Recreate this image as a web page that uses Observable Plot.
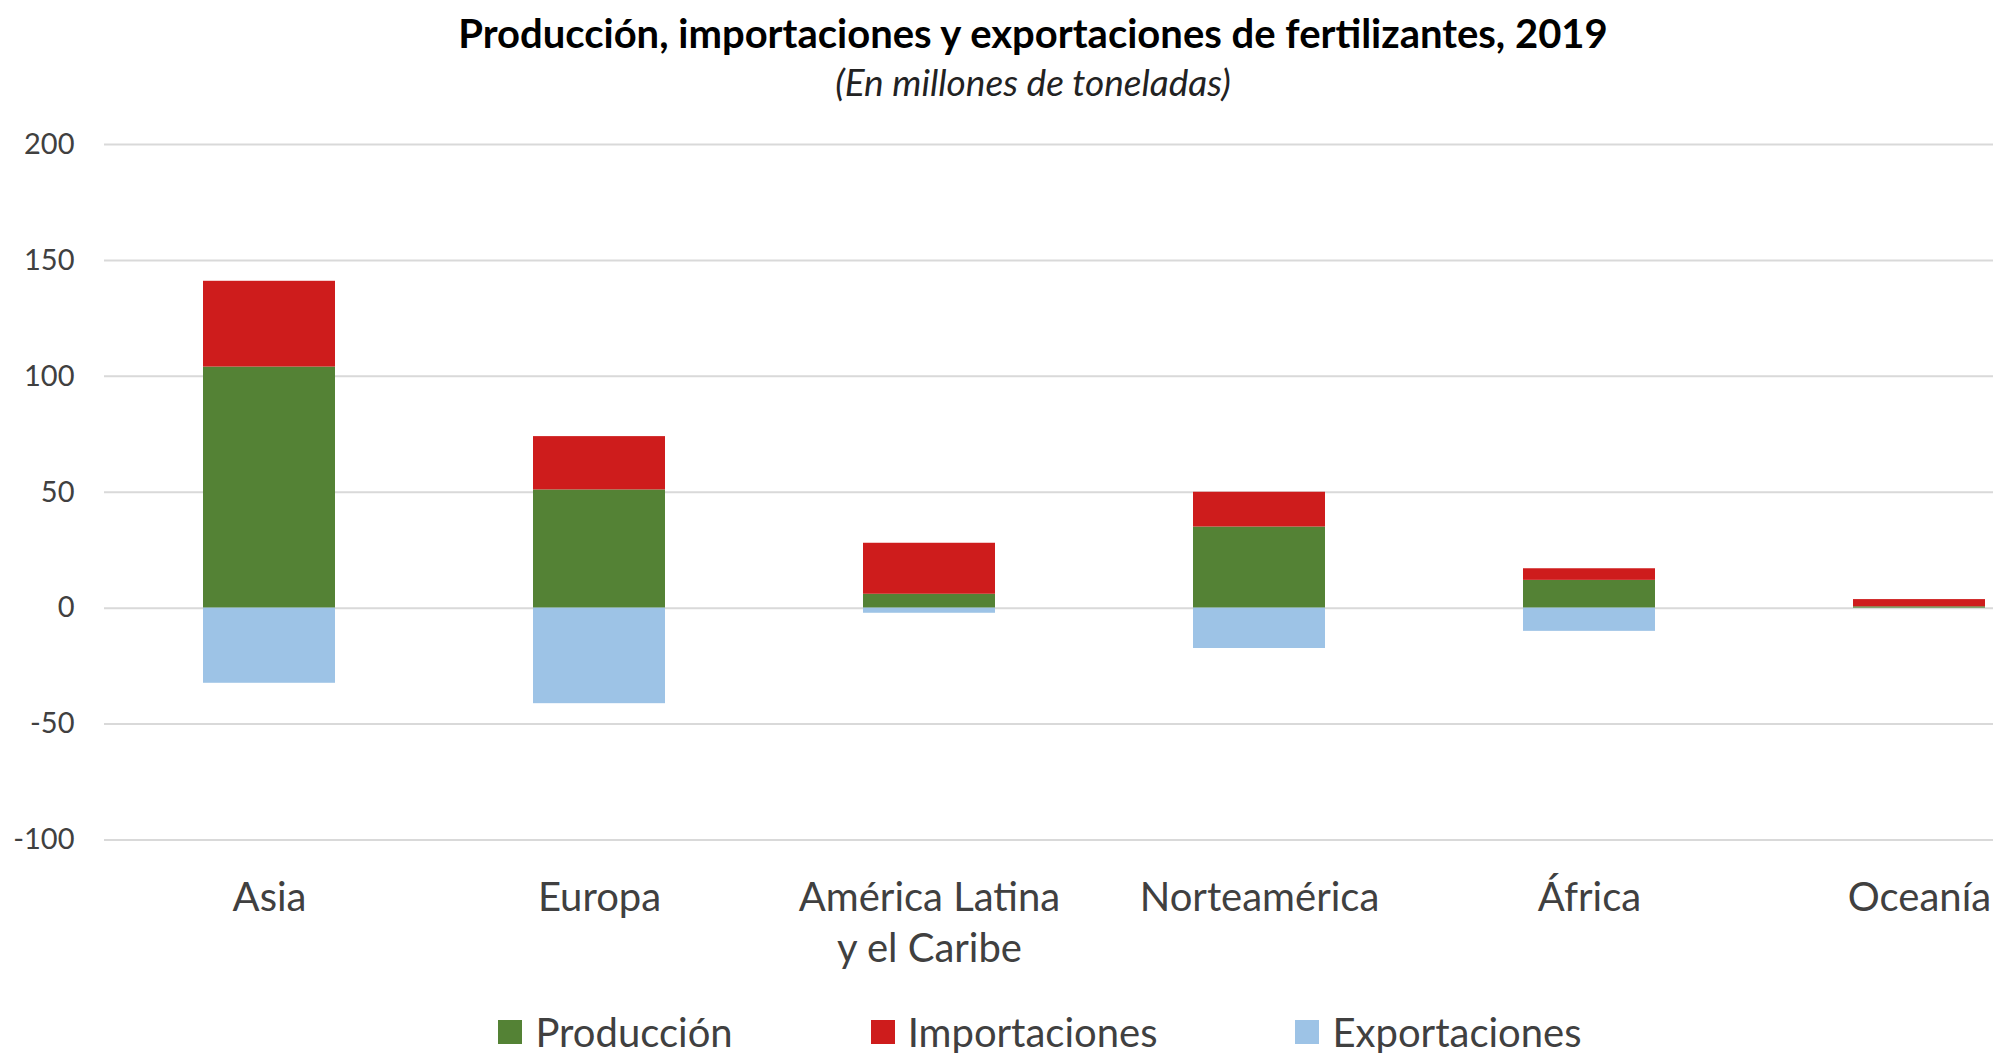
<!DOCTYPE html>
<html>
<head>
<meta charset="utf-8">
<script src="https://cdn.jsdelivr.net/npm/d3@7"></script>
<script src="https://cdn.jsdelivr.net/npm/@observablehq/plot@0.6"></script>
<style>
  html, body { margin: 0; padding: 0; background: #fff; }
  body { width: 1993px; height: 1053px; position: relative; overflow: hidden; font-family: Lato, "Open Sans", sans-serif; }
  #title { position: absolute; top: 13px; left: 1033px; transform: translateX(-50%); white-space: nowrap; font-weight: 700; font-size: 40px; line-height: 1; color: #000; }
  #subtitle { position: absolute; top: 63px; left: 1033px; transform: translateX(-50%); white-space: nowrap; font-style: italic; font-size: 37px; line-height: 1; color: #222; }
  #chart { position: absolute; top: 110px; left: 0; }
  #legend { position: absolute; top: 1010px; left: 0; width: 2080px; display: flex; justify-content: center; gap: 138px; font-size: 40px; line-height: 44px; color: #404040; }
  .item { display: flex; align-items: center; white-space: nowrap; }
  .sw { width: 24px; height: 24px; margin-right: 13px; display: inline-block; }
</style>
</head>
<body>
<div id="title">Producción, importaciones y exportaciones de fertilizantes, 2019</div>
<div id="subtitle">(En millones de toneladas)</div>
<div id="chart"></div>
<div id="legend"></div>
<script>
const regions = ["Asia", "Europa", "América Latina y el Caribe", "Norteamérica", "África", "Oceanía"];
const series = ["Producción", "Importaciones", "Exportaciones"];
const colors = ["#548235", "#ce1c1c", "#9dc3e6"];
const produccion = [104, 51, 6, 35, 12, 0.6];
const importaciones = [37, 23, 22, 15, 5, 3.1];
const exportaciones = [-32.4, -41.2, -2.2, -17.4, -10, 0];
const yTicks = [-100, -50, 0, 50, 100, 150, 200];

const valuesBySeries = [produccion, importaciones, exportaciones];
const rows = [];
series.forEach((s, i) => {
  regions.forEach((r, j) => rows.push({region: r, serie: s, value: valuesBySeries[i][j]}));
});

const chart = Plot.plot({
  width: 1993,
  height: 880,
  marginTop: 34,
  marginBottom: 150.5,
  marginLeft: 104,
  marginRight: 0,
  style: {fontFamily: "Lato, 'Open Sans', sans-serif", background: "#fff"},
  x: {type: "band", domain: regions, range: [104, 2084], paddingInner: 0.6, paddingOuter: 0.3},
  y: {domain: [-100, 200]},
  color: {domain: series, range: colors},
  marks: [
    Plot.ruleY(yTicks, {stroke: "#d9d9d9", strokeWidth: 2}),
    Plot.barY(rows, Plot.stackY({x: "region", y: "value", fill: "serie", order: series})),
    Plot.axisY(yTicks, {
      tickSize: 0, tickPadding: 30, fontSize: 29, fill: "#404040", label: null,
      tickFormat: d => (d < 0 ? "-" + Math.abs(d) : String(d))
    }),
    Plot.axisX({
      tickSize: 0, tickPadding: 35, fontSize: 40, fill: "#404040", label: null, lineHeight: 1.275,
      tickFormat: d => d.replace(" y el", "\ny el")
    })
  ]
});
document.getElementById("chart").appendChild(chart);

const legend = document.getElementById("legend");
series.forEach((s, i) => {
  const item = document.createElement("div");
  item.className = "item";
  const sw = document.createElement("span");
  sw.className = "sw";
  sw.style.background = colors[i];
  item.appendChild(sw);
  item.appendChild(document.createTextNode(s));
  legend.appendChild(item);
});
</script>
</body>
</html>
